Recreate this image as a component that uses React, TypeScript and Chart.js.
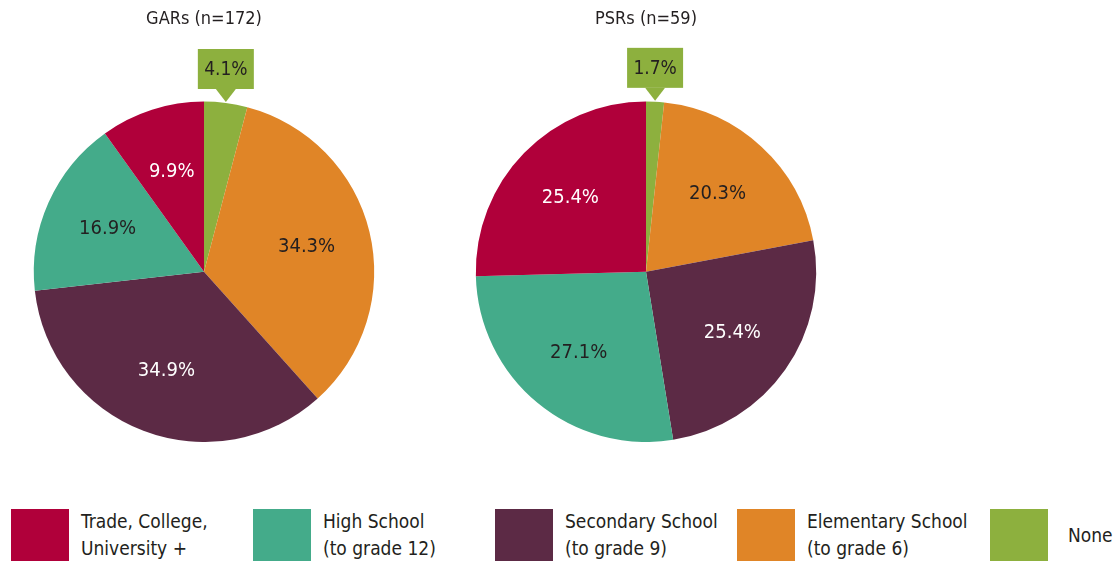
import React, { useEffect, useRef } from "react";
import { Chart, registerables } from "chart.js";

Chart.register(...registerables);

// Data order drawn clockwise from 12 o'clock
const sliceCategories = ["None", "Elementary School", "Secondary School", "High School", "Trade, College, University +"];
const garValues = [4.1, 34.3, 34.9, 16.9, 9.9];
const psrValues = [1.7, 20.3, 25.4, 27.1, 25.4];
const garTitle = "GARs (n=172)";
const psrTitle = "PSRs (n=59)";
const sliceColors = ["#8DB03E", "#E08527", "#5C2A45", "#44AB8A", "#B0003A"];
const labelColors = ["#231F20", "#231F20", "#FFFFFF", "#231F20", "#FFFFFF"];

const legendLines = [
  ["Trade, College,", "University +"],
  ["High School", "(to grade 12)"],
  ["Secondary School", "(to grade 9)"],
  ["Elementary School", "(to grade 6)"],
  ["None"],
];
const legendColors = ["#B0003A", "#44AB8A", "#5C2A45", "#E08527", "#8DB03E"];

const FONT = "'DejaVu Sans Condensed', 'DejaVu Sans', sans-serif";

const labelPlugin = {
  id: "sliceLabels",
  afterDatasetsDraw(chart: any) {
    const ctx = chart.ctx;
    const meta = chart.getDatasetMeta(0);
    const data = chart.data.datasets[0].data as number[];
    ctx.save();
    ctx.textAlign = "center";
    ctx.textBaseline = "middle";
    meta.data.forEach((arc: any, i: number) => {
      const { x, y, startAngle, endAngle, outerRadius } = arc.getProps(
        ["x", "y", "startAngle", "endAngle", "outerRadius"],
        true
      );
      const mid = (startAngle + endAngle) / 2;
      const text = data[i].toFixed(1) + "%";
      if (i === 0) {
        // callout box above the small slice
        const tipX = x + Math.cos(mid) * outerRadius;
        const tipY = y + Math.sin(mid) * outerRadius;
        const bw = 56, bh = 40;
        const bx = tipX - bw / 2;
        const by = tipY - 54;
        ctx.fillStyle = sliceColors[0];
        ctx.fillRect(bx, by, bw, bh);
        ctx.beginPath();
        ctx.moveTo(tipX - 10, by + bh);
        ctx.lineTo(tipX + 10, by + bh);
        ctx.lineTo(tipX, tipY - 1);
        ctx.closePath();
        ctx.fill();
        ctx.font = `19px ${FONT}`;
        ctx.fillStyle = "#231F20";
        ctx.fillText(text, tipX, by + bh / 2 + 1);
      } else {
        const r = outerRadius * 0.62;
        ctx.font = `20px ${FONT}`;
        ctx.fillStyle = labelColors[i];
        ctx.fillText(text, x + Math.cos(mid) * r, y + Math.sin(mid) * r);
      }
    });
    ctx.restore();
  },
};

function PieChart({ values, title, left }: { values: number[]; title: string; left: number }) {
  const ref = useRef<HTMLCanvasElement>(null);
  useEffect(() => {
    const chart = new Chart(ref.current as HTMLCanvasElement, {
      type: "pie",
      data: {
        labels: sliceCategories,
        datasets: [
          {
            data: values,
            backgroundColor: sliceColors,
            borderWidth: 0,
          },
        ],
      },
      options: {
        animation: false,
        responsive: false,
        maintainAspectRatio: false,
        layout: { padding: 0 },
        plugins: {
          legend: { display: false },
          tooltip: { enabled: false },
          title: {
            display: true,
            text: title,
            color: "#231F20",
            font: { family: FONT, size: 18, weight: "normal" },
            padding: { top: 9, bottom: 71 },
          },
        } as any,
      },
      plugins: [labelPlugin],
    });
    return () => chart.destroy();
  }, []);
  return (
    <canvas
      ref={ref}
      width={408}
      height={442}
      style={{ position: "absolute", left, top: 0, width: 408, height: 442 }}
    />
  );
}

export default function App() {
  useEffect(() => {
    document.body.style.margin = "0";
  }, []);
  return (
    <div style={{ position: "relative", width: 1117, height: 562, background: "#fff", overflow: "hidden", fontFamily: FONT }}>
      <PieChart values={garValues} title={garTitle} left={0} />
      <PieChart values={psrValues} title={psrTitle} left={442} />
      {legendLines.map((lines, i) => (
        <div key={i} style={{ position: "absolute", left: 11 + i * 242 + (i === 4 ? 11 : 0), top: 509, display: "flex", alignItems: "center", height: 52 }}>
          <div style={{ width: 58, height: 52, background: legendColors[i] }} />
          <div style={{ marginLeft: i === 4 ? 20 : 12, fontSize: 19, lineHeight: "27px", color: "#231F20" }}>
            {lines.map((l, j) => (
              <div key={j} style={{ whiteSpace: "nowrap" }}>{l}</div>
            ))}
          </div>
        </div>
      ))}
    </div>
  );
}
